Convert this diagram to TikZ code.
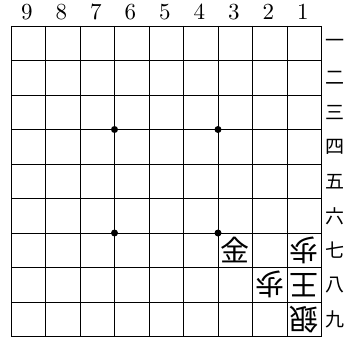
\documentclass[tikz,border=0pt]{standalone}
\usepackage{fontspec}
\newfontfamily\jpfont{Noto Sans CJK JP}
\newfontfamily\numfont[Extension=.otf]{lmroman10-regular}
\begin{document}
\begin{tikzpicture}[x=1pt,y=-1pt,
  gridline/.style={line width=0.9pt,black},
  star/.style={circle,fill=black,inner sep=0pt,minimum size=7pt},
  collabel/.style={inner sep=0pt,font=\numfont\fontsize{23}{23}\selectfont},
  rowlabel/.style={inner sep=0pt,font=\jpfont\fontsize{19}{19}\selectfont},
  piece/.style={inner sep=0pt,font=\jpfont\fontsize{29}{29}\selectfont},
  gote/.style={piece,rotate=180}]
\useasboundingbox (0,0) rectangle (347,337);
\def\cs{34.5}
% grid
\foreach \i in {0,...,9} {
  \draw[gridline] ({11+\i*\cs},26) -- ({11+\i*\cs},{26+9*\cs});
  \draw[gridline] (11,{26+\i*\cs}) -- ({11+9*\cs},{26+\i*\cs});
}
% star points
\node[star] (s1) at ({11+3*\cs},{26+3*\cs}) {};
\node[star] (s2) at ({11+6*\cs},{26+3*\cs}) {};
\node[star] (s3) at ({11+3*\cs},{26+6*\cs}) {};
\node[star] (s4) at ({11+6*\cs},{26+6*\cs}) {};
% column labels
\foreach \c [count=\k from 0] in {9,8,7,6,5,4,3,2,1}
  \node[collabel] (c\c) at ({11+(\k+0.5)*\cs-1.5},12) {\c};
% row labels
\foreach \r [count=\k from 0] in {一,二,三,四,五,六,七,八,九}
  \node[rowlabel] (r\k) at (334.5,{26+(\k+0.5)*\cs}) {\r};
% pieces
\node[piece] (p37) at ({11+6.5*\cs},{26+6.5*\cs}) {金};
\node[gote]  (p17) at ({11+8.5*\cs},{26+6.5*\cs}) {歩};
\node[gote]  (p28) at ({11+7.5*\cs},{26+7.5*\cs}) {歩};
\node[gote]  (p18) at ({11+8.5*\cs},{26+7.5*\cs}) {王};
\node[gote]  (p19) at ({11+8.5*\cs},{26+8.5*\cs}) {銀};
\end{tikzpicture}
\end{document}
